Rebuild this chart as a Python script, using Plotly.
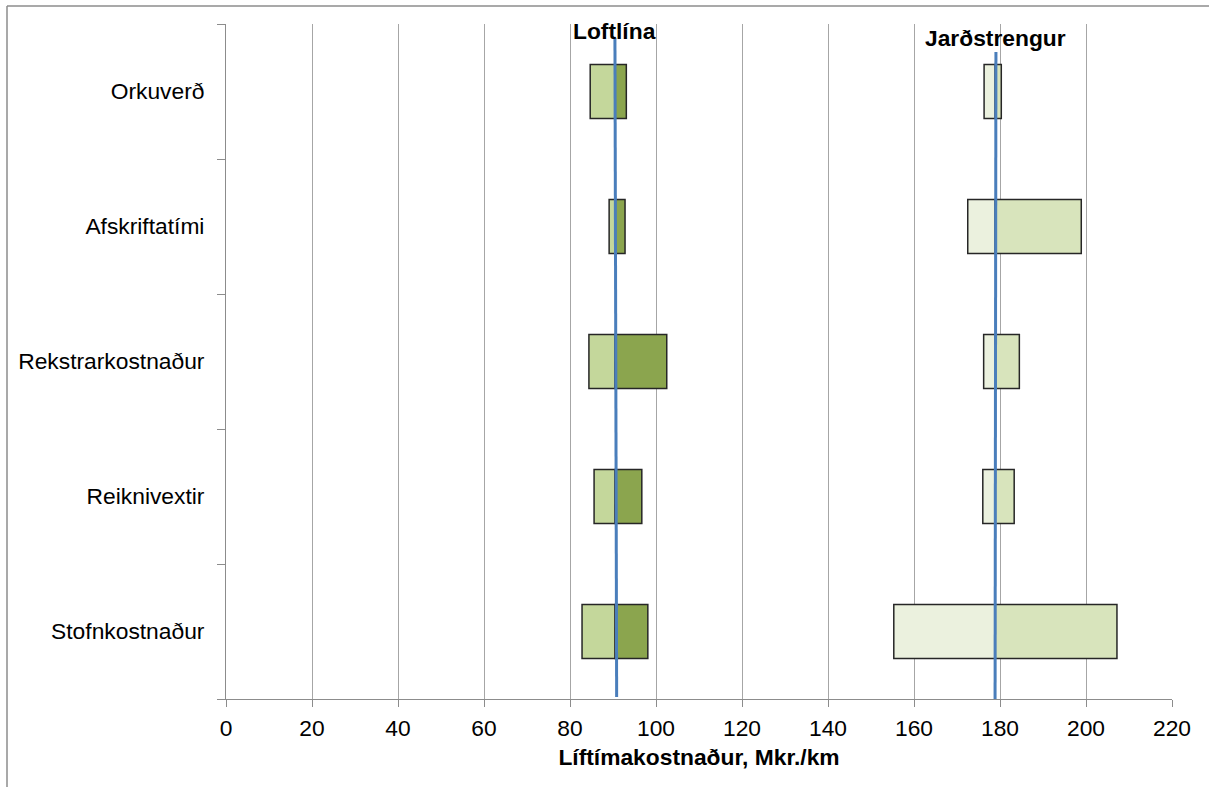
import plotly.graph_objects as go

# Sensitivity of lifetime cost (Mkr./km) for overhead line vs. underground cable
categories = ["Stofnkostnaður", "Reiknivextir", "Rekstrarkostnaður", "Afskriftatími", "Orkuverð"]

loft_base = 90.5
loft_low = [82.8, 85.6, 84.4, 89.1, 84.7]
loft_high = [98.1, 96.7, 102.5, 92.8, 93.1]

jard_base = 178.9
jard_low = [155.3, 176.0, 176.2, 172.5, 176.3]
jard_high = [207.2, 183.3, 184.5, 198.9, 180.3]

# reference lines (x at top, x at bottom) and their vertical extent in category units
loft_line_x = [90.45, 90.85]
loft_line_y = [4.396, -0.485]
jard_line_x = [179.05, 178.85]
jard_line_y = [4.293, -0.567]

x_ticks = list(range(0, 221, 20))

FONT = "Liberation Sans, Arial, sans-serif"
FS = 22.8
OUTLINE = dict(color="#262626", width=1.5)
pos = list(range(len(categories)))

fig = go.Figure()


def add_segments(lows, highs, base, c_low, c_high):
    fig.add_trace(go.Bar(
        orientation="h", y=pos, base=lows, x=[base - v for v in lows],
        width=0.4, marker=dict(color=c_low, line=OUTLINE), hoverinfo="skip"))
    fig.add_trace(go.Bar(
        orientation="h", y=pos, base=[base] * len(highs), x=[v - base for v in highs],
        width=0.4, marker=dict(color=c_high, line=OUTLINE), hoverinfo="skip"))


add_segments(loft_low, loft_high, loft_base, "#C4D79B", "#8BA54E")
add_segments(jard_low, jard_high, jard_base, "#EBF1DE", "#D8E4BC")

for lx, ly in ((loft_line_x, loft_line_y), (jard_line_x, jard_line_y)):
    fig.add_trace(go.Scatter(
        x=lx, y=ly, mode="lines", line=dict(color="#4A7EBB", width=3),
        cliponaxis=False, hoverinfo="skip"))

fig.add_annotation(x=loft_line_x[0], y=4.448, xref="x", yref="y", text="<b>Loftlína</b>",
                   showarrow=False, font=dict(family=FONT, size=FS, color="black"),
                   xanchor="center", yanchor="middle")
fig.add_annotation(x=jard_line_x[0], y=4.4, xref="x", yref="y", text="<b>Jarðstrengur</b>",
                   showarrow=False, font=dict(family=FONT, size=FS, color="black"),
                   xanchor="center", yanchor="middle")

# chart-area border (left and top edges)
border = dict(color="#8C8C8C", width=1.5)
fig.add_shape(type="line", xref="paper", yref="paper", x0=-0.2315, x1=-0.2315,
              y0=1.0267, y1=-0.2, line=border)
fig.add_shape(type="line", xref="paper", yref="paper", x0=-0.2315, x1=1.1,
              y0=1.0267, y1=1.0267, line=border)

fig.update_layout(
    width=1209, height=787,
    margin=dict(l=226, r=37, t=24, b=88),
    paper_bgcolor="white", plot_bgcolor="white",
    barmode="overlay", showlegend=False,
    font=dict(family=FONT, size=FS, color="black"),
    xaxis=dict(
        range=[0, 220], tickvals=x_ticks, ticktext=[str(v) for v in x_ticks],
        showgrid=True, gridcolor="#A6A6A6", gridwidth=1,
        showline=True, linecolor="#8C8C8C", linewidth=1,
        ticks="outside", ticklen=7, tickcolor="#8C8C8C",
        ticklabelstandoff=2, zeroline=False,
        title=dict(text="<b>Líftímakostnaður, Mkr./km</b>", standoff=8,
                   font=dict(family=FONT, size=FS, color="black")),
        tickfont=dict(family=FONT, size=FS, color="black"),
    ),
    yaxis=dict(
        range=[-0.5, 4.5], tickvals=pos, ticktext=categories,
        showgrid=False, zeroline=False,
        showline=True, linecolor="#8C8C8C", linewidth=1,
        ticks="outside", ticklen=8, tickcolor="rgba(0,0,0,0)",
        ticklabelstandoff=8,
        tickfont=dict(family=FONT, size=FS, color="black"),
        minor=dict(tickmode="array", tickvals=[-0.5, 0.5, 1.5, 2.5, 3.5, 4.5],
                   ticks="outside", ticklen=8, tickcolor="#8C8C8C", showgrid=False),
    ),
)

fig.write_html("out.html")
